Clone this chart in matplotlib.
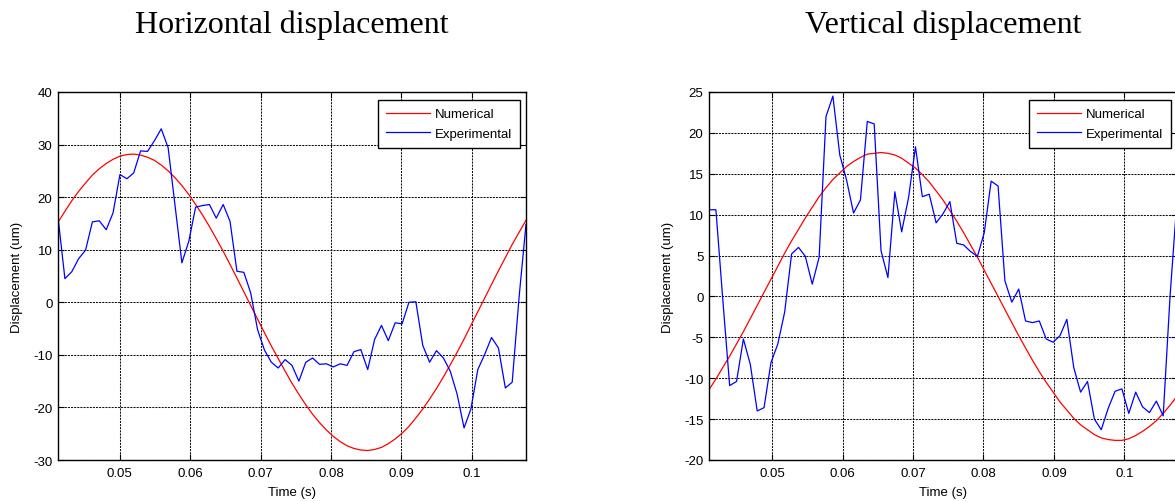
import matplotlib
matplotlib.use('Agg')
import matplotlib.pyplot as plt

# time axes (s)
t_horiz = [0.04126, 0.04224, 0.04321, 0.04419, 0.04517, 0.04614, 0.04712, 0.04810, 0.04907, 0.05005,
           0.05103, 0.05200, 0.05298, 0.05396, 0.05493, 0.05591, 0.05689, 0.05786, 0.05884, 0.05982,
           0.06079, 0.06177, 0.06275, 0.06372, 0.06470, 0.06567, 0.06665, 0.06763, 0.06860, 0.06958,
           0.07056, 0.07153, 0.07251, 0.07349, 0.07446, 0.07544, 0.07642, 0.07739, 0.07837, 0.07935,
           0.08032, 0.08130, 0.08228, 0.08325, 0.08423, 0.08521, 0.08618, 0.08716, 0.08813, 0.08911,
           0.09009, 0.09106, 0.09204, 0.09302, 0.09399, 0.09497, 0.09595, 0.09692, 0.09790, 0.09888,
           0.09985, 0.10083, 0.10181, 0.10278, 0.10376, 0.10474, 0.10571, 0.10669, 0.10767]

t_vert = [0.04105, 0.04203, 0.04300, 0.04398, 0.04496, 0.04593, 0.04691, 0.04789, 0.04886, 0.04984,
          0.05082, 0.05179, 0.05277, 0.05375, 0.05472, 0.05570, 0.05668, 0.05765, 0.05863, 0.05961,
          0.06058, 0.06156, 0.06254, 0.06351, 0.06449, 0.06546, 0.06644, 0.06742, 0.06839, 0.06937,
          0.07035, 0.07132, 0.07230, 0.07328, 0.07425, 0.07523, 0.07621, 0.07718, 0.07816, 0.07914,
          0.08011, 0.08109, 0.08207, 0.08304, 0.08402, 0.08500, 0.08597, 0.08695, 0.08792, 0.08890,
          0.08988, 0.09085, 0.09183, 0.09281, 0.09378, 0.09476, 0.09574, 0.09671, 0.09769, 0.09867,
          0.09964, 0.10062, 0.10160, 0.10257, 0.10355, 0.10453, 0.10550, 0.10648, 0.10746]

# horizontal displacement (um)
num_horiz = [15.2, 17.3, 19.3, 21.1, 22.7, 24.2, 25.4, 26.4, 27.2, 27.8,
             28.1, 28.2, 28.0, 27.6, 27.0, 26.1, 25.0, 23.7, 22.2, 20.5,
             18.6, 16.6, 14.4, 12.1, 9.7, 7.2, 4.6, 2.0, -0.6, -3.2,
             -5.8, -8.3, -10.7, -13.1, -15.4, -17.5, -19.5, -21.3, -22.9, -24.3,
             -25.5, -26.5, -27.3, -27.8, -28.1, -28.2, -28.0, -27.6, -26.9, -26.0,
             -24.9, -23.6, -22.0, -20.3, -18.4, -16.4, -14.2, -11.9, -9.5, -7.0,
             -4.4, -1.8, 0.8, 3.4, 6.0, 8.5, 11.0, 13.3, 15.6]

exp_horiz = [16.2, 4.5, 5.8, 8.3, 9.9, 15.3, 15.5, 13.8, 17.0, 24.3,
             23.5, 24.6, 28.8, 28.7, 30.7, 33.0, 29.4, 18.5, 7.5, 11.6,
             18.1, 18.4, 18.6, 16.0, 18.6, 15.4, 5.9, 5.7, 1.8, -5.2,
             -9.1, -11.4, -12.5, -10.9, -12.0, -15.0, -11.4, -10.6, -11.8, -11.7,
             -12.3, -11.7, -12.0, -9.4, -9.0, -12.8, -7.1, -4.4, -7.3, -3.9,
             -4.1, 0.0, 0.1, -8.2, -11.4, -9.2, -10.6, -13.1, -17.5, -23.9,
             -20.3, -12.8, -9.9, -6.7, -8.7, -16.3, -15.2, 1.0, 14.8]

# vertical displacement (um)
num_vert = [-11.4, -10.1, -8.7, -7.3, -5.8, -4.3, -2.7, -1.1, 0.5, 2.1,
            3.7, 5.3, 6.8, 8.2, 9.6, 10.9, 12.2, 13.3, 14.3, 15.1,
            15.9, 16.5, 17.0, 17.4, 17.5, 17.6, 17.5, 17.3, 16.9, 16.3,
            15.7, 14.9, 14.0, 12.9, 11.8, 10.5, 9.2, 7.8, 6.3, 4.8,
            3.2, 1.6, 0.0, -1.6, -3.2, -4.8, -6.3, -7.8, -9.2, -10.5,
            -11.7, -12.9, -13.9, -14.9, -15.7, -16.3, -16.9, -17.3, -17.5, -17.6,
            -17.6, -17.4, -17.0, -16.5, -15.9, -15.2, -14.3, -13.3, -12.2]

exp_vert = [10.6, 10.6, -0.3, -10.9, -10.4, -5.2, -8.3, -14.0, -13.6, -8.1,
            -5.8, -1.9, 5.2, 6.0, 4.9, 1.5, 4.8, 22.0, 24.5, 17.3,
            14.2, 10.2, 11.8, 21.4, 21.1, 5.6, 2.3, 12.8, 7.9, 12.1,
            18.3, 12.2, 12.5, 9.0, 10.1, 11.6, 6.5, 6.3, 5.5, 4.9,
            7.8, 14.1, 13.5, 1.9, -0.7, 0.9, -3.0, -3.2, -3.0, -5.2,
            -5.6, -4.8, -2.8, -8.7, -11.7, -10.4, -15.0, -16.3, -13.7, -11.6,
            -11.3, -14.3, -11.7, -13.5, -14.2, -12.8, -14.6, 0.1, 11.8]

plt.rcParams['font.family'] = ['Liberation Sans', 'DejaVu Sans']
plt.rcParams['axes.unicode_minus'] = False

W, H = 1175, 502
fig = plt.figure(figsize=(W / 100, H / 100), dpi=100)


def panel(left_px, title, t, num, exp, ylim, yticks):
    ax = fig.add_axes([left_px / W, (H - 461) / H, 468 / W, 368 / H])
    ax.plot(t, num, color='#ff0000', lw=0.9, label='Numerical')
    ax.plot(t, exp, color='#0000ff', lw=0.9, label='Experimental')
    ax.set_xlim(t[0], t[-1])
    ax.set_ylim(*ylim)
    ax.set_yticks(yticks)
    ax.set_xticks([0.05, 0.06, 0.07, 0.08, 0.09, 0.1])
    ax.set_xticklabels(['0.05', '0.06', '0.07', '0.08', '0.09', '0.1'])
    ax.grid(True, color='#111111', linestyle=(0, (2, 1)), linewidth=0.75)
    ax.tick_params(direction='in', top=True, right=True, length=4, labelsize=9.5, width=0.8)
    ax.tick_params(axis='x', pad=5)
    ax.tick_params(axis='y', pad=4)
    for s in ax.spines.values():
        s.set_linewidth(1.0)
        s.set_color('k')
    ax.set_xlabel('Time (s)', fontsize=9.5, va='center')
    ax.xaxis.set_label_coords(0.5, -0.087)
    ax.set_ylabel('Displacement (um)', fontsize=9.5, va='center')
    ax.yaxis.set_label_coords(-0.0876, 0.5)
    leg = ax.legend(loc='upper right', bbox_to_anchor=(462 / 468, 0.978),
                    fontsize=9.5, frameon=True, fancybox=False, edgecolor='k',
                    framealpha=1, borderaxespad=0, handlelength=3.3, handletextpad=0.4,
                    borderpad=0.6, labelspacing=0.55)
    leg.get_frame().set_linewidth(1.0)
    fig.text((left_px + 234) / W, 1 - 33 / H, title, ha='center', va='baseline',
             fontsize=23, family='Liberation Serif')
    return ax


panel(58, 'Horizontal displacement', t_horiz, num_horiz, exp_horiz,
      (-30, 40), [-30, -20, -10, 0, 10, 20, 30, 40])
panel(709, 'Vertical displacement', t_vert, num_vert, exp_vert,
      (-20, 25), [-20, -15, -10, -5, 0, 5, 10, 15, 20, 25])

fig.savefig('out.png', dpi=100)
